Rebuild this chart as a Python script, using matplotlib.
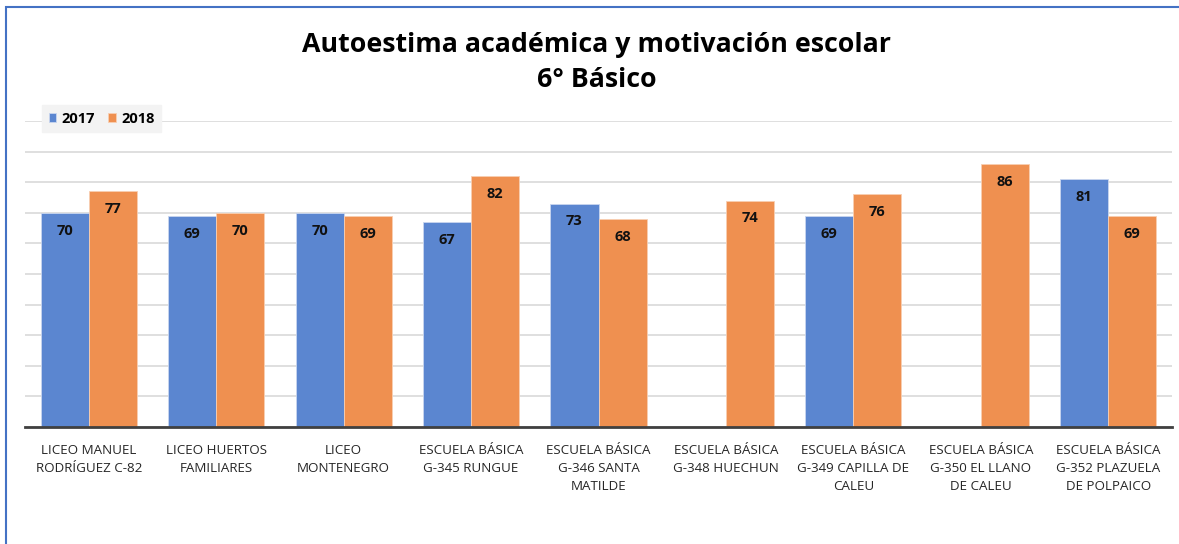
import numpy as np
import matplotlib.pyplot as plt
from matplotlib.patches import Rectangle

categories = [
    "LICEO MANUEL\nRODRÍGUEZ C-82",
    "LICEO HUERTOS\nFAMILIARES",
    "LICEO\nMONTENEGRO",
    "ESCUELA BÁSICA\nG-345 RUNGUE",
    "ESCUELA BÁSICA\nG-346 SANTA\nMATILDE",
    "ESCUELA BÁSICA\nG-348 HUECHUN",
    "ESCUELA BÁSICA\nG-349 CAPILLA DE\nCALEU",
    "ESCUELA BÁSICA\nG-350 EL LLANO\nDE CALEU",
    "ESCUELA BÁSICA\nG-352 PLAZUELA\nDE POLPAICO",
]
vals_2017 = [70, 69, 70, 67, 73, np.nan, 69, np.nan, 81]
vals_2018 = [77, 70, 69, 82, 68, 74, 76, 86, 69]
series = ["2017", "2018"]

blue = "#5B86D0"
orange = "#EF9050"

plt.rcParams['font.family'] = ['Open Sans', 'DejaVu Sans']

fig = plt.figure(figsize=(11.79, 5.44), dpi=100)
ax = fig.add_axes([25 / 1179, 1 - 427 / 544, 1147 / 1179, 306 / 544])

x = np.arange(len(categories))
w = 0.377
b1 = ax.bar(x - w / 2, vals_2017, w, color=blue, label=series[0], zorder=3,
            edgecolor='#c9d6ef', linewidth=0.6)
b2 = ax.bar(x + w / 2, vals_2018, w, color=orange, label=series[1], zorder=3,
            edgecolor='#f8cfb2', linewidth=0.6)

# etiquetas dentro de la barra, cerca del borde superior
for bars, vals in ((b1, vals_2017), (b2, vals_2018)):
    for r, v in zip(bars, vals):
        if np.isnan(v):
            continue
        ax.text(r.get_x() + r.get_width() / 2, v - 5.8, f"{v:.0f}",
                ha='center', va='center', fontsize=10.5, fontweight='bold',
                color='#111111', zorder=4)

ax.set_xlim(-0.5, len(categories) - 0.5)
ax.set_ylim(0, 100)
ax.set_yticks(np.arange(0, 101, 10))
ax.yaxis.grid(True, color='#d9d9d9', linewidth=1.2, zorder=0)
ax.tick_params(axis='y', left=False, labelleft=False)
ax.tick_params(axis='x', bottom=False, pad=9)
ax.set_xticks(x)
ax.set_xticklabels(categories, fontsize=9.6, color='#262626', linespacing=1.5)
for s in ['top', 'right', 'left']:
    ax.spines[s].set_visible(False)
ax.spines['bottom'].set_color('#404040')
ax.spines['bottom'].set_linewidth(2)
ax.spines['bottom'].set_zorder(5)

leg = ax.legend(loc='upper left', bbox_to_anchor=(17 / 1147, 1 + 16 / 306), ncol=2,
                frameon=True, fancybox=False, handlelength=0.5, handleheight=0.5,
                handletextpad=0.4, columnspacing=0.9, borderpad=0.45,
                borderaxespad=0, prop={'size': 10.5, 'weight': 'bold'})
leg.get_frame().set_facecolor('#f3f3f3')
leg.get_frame().set_edgecolor('#f3f3f3')
leg.get_frame().set_alpha(1)

fig.text(597 / 1179, 1 - 45 / 544, "Autoestima académica y motivación escolar",
         ha='center', va='center', fontsize=19.3, fontweight='bold', color='black')
fig.text(597 / 1179, 1 - 80 / 544, "6° Básico",
         ha='center', va='center', fontsize=19.3, fontweight='bold', color='black')

fig.patches.append(Rectangle((5.5 / 1179, -0.05), 1.2, 1 - 6.5 / 544 + 0.05,
                             transform=fig.transFigure, fill=False,
                             edgecolor='#4472C4', linewidth=1.5))

fig.savefig("out.png", dpi=100)
